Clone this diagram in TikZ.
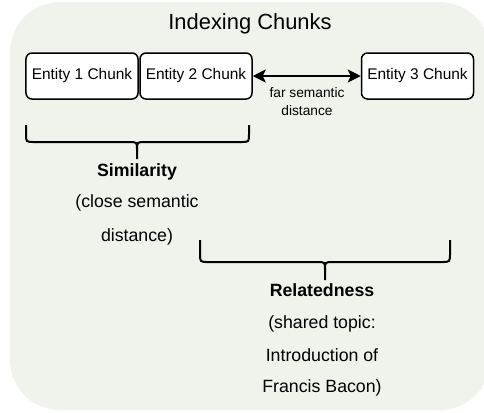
\documentclass[tikz,border=0pt]{standalone}
\usepackage{fontspec}
\setmainfont{Liberation Sans}
\usetikzlibrary{arrows.meta}
\definecolor{bgc}{RGB}{239,243,236}
\tikzset{
  chunk/.style={draw=black, line width=1.5bp, fill=white, rounded corners=6bp,
    minimum width=112bp, minimum height=46bp, inner sep=0pt,
    font=\fontsize{15.5}{18}\selectfont},
  bracestyle/.style={draw=black, line width=2bp},
  lbl/.style={anchor=base, inner sep=0pt, font=\fontsize{17.8}{20}\selectfont},
  lblb/.style={lbl, font=\fontsize{17.8}{20}\selectfont\bfseries},
}
\begin{document}
\begin{tikzpicture}[x=1bp,y=-1bp]
\useasboundingbox (0,0) rectangle (484,412);
\fill[bgc, rounded corners=50bp] (10,2) rectangle (490,410);
\node[anchor=base, inner sep=0pt, font=\fontsize{22}{26}\selectfont] (title) at (250,29.5) {Indexing Chunks};
\node[chunk] (e1) at (82,76) {Entity 1 Chunk};
\node[chunk] (e2) at (196,76) {Entity 2 Chunk};
\node[chunk] (e3) at (417.5,76) {Entity 3 Chunk};
\draw[line width=1.8bp, {Stealth[length=13bp,width=13bp,inset=3bp]}-{Stealth[length=13bp,width=13bp,inset=3bp]}] (e2.east) -- (e3.west);
\node[anchor=base, inner sep=0pt, font=\fontsize{13.8}{16}\selectfont] (far1) at (307,97.5) {far semantic};
\node[anchor=base, inner sep=0pt, font=\fontsize{13.8}{16}\selectfont] (far2) at (307,115) {distance};
% brace 1
\coordinate (b1l) at (26,125);
\coordinate (b1r) at (249,125);
\coordinate (b1c) at (137,159);
\draw[bracestyle] (b1l) -- (26,134) .. controls (26,142) .. (34,142) -- (129,142) .. controls (137,142) .. (137,150) -- (b1c);
\draw[bracestyle] (137,150) .. controls (137,142) .. (145,142) -- (241,142) .. controls (249,142) .. (249,134) -- (b1r);
\node[lblb] (sim) at (137,176.5) {Similarity};
\node[lbl] (sim2) at (137,207.5) {(close semantic};
\node[lbl] (sim3) at (137,241.5) {distance)};
% brace 2
\coordinate (b2l) at (200,240);
\coordinate (b2r) at (450,240);
\coordinate (b2c) at (325,280);
\draw[bracestyle] (b2l) -- (200,253) .. controls (200,262) .. (208,262) -- (317,262) .. controls (325,262) .. (325,270) -- (b2c);
\draw[bracestyle] (325,270) .. controls (325,262) .. (333,262) -- (442,262) .. controls (450,262) .. (450,253) -- (b2r);
\node[lblb] (rel) at (322,296.5) {Relatedness};
\node[lbl] (rel2) at (322,328) {(shared topic:};
\node[lbl] (rel3) at (322,361) {Introduction of};
\node[lbl] (rel4) at (322,392) {Francis Bacon)};
\end{tikzpicture}
\end{document}
